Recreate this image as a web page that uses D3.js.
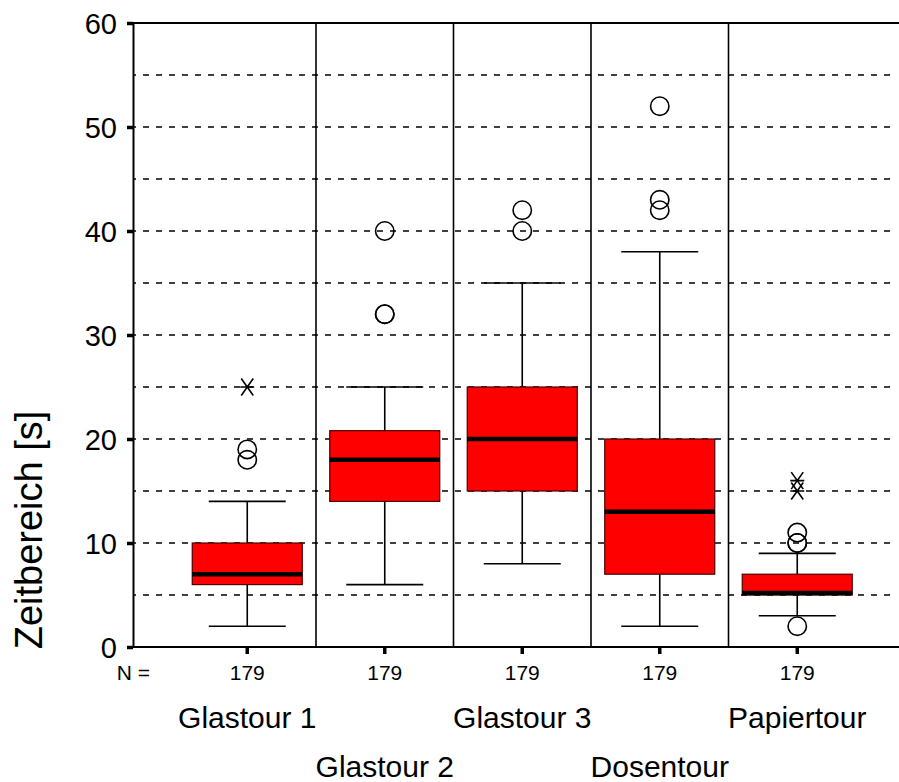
<!DOCTYPE html>
<html>
<head>
<meta charset="utf-8">
<script src="https://cdn.jsdelivr.net/npm/d3@7"></script>
<style>
  html, body { margin: 0; padding: 0; background: #fff; }
  svg { display: block; font-family: "Liberation Sans", Arial, sans-serif; }
</style>
</head>
<body>
<svg id="chart" width="899" height="782"></svg>
<script>
// Zeitbereich je Tour (Boxplot)
const categories   = ["Glastour 1", "Glastour 2", "Glastour 3", "Dosentour", "Papiertour"];
const counts       = [179, 179, 179, 179, 179];
const whiskerLow   = [2, 6, 8, 2, 3];
const q1           = [6, 14, 15, 7, 5];
const medians      = [7, 18, 20, 13, 5];
const q3           = [10, 20.8, 25, 20, 7];
const whiskerHigh  = [14, 25, 35, 38, 9];
const outliers     = [[18, 19], [32, 32, 40], [40, 42], [42, 43, 52], [2, 10, 10, 11]];
const extremes     = [[25], [], [], [], [15, 16]];
const yTicks       = [0, 10, 20, 30, 40, 50, 60];
const gridValues   = [5, 10, 15, 20, 25, 30, 35, 40, 45, 50, 55];
const yTitle       = "Zeitbereich [s]";
const nLabel       = "N =";

const svg = d3.select("#chart");
const W = 899;
const plotLeft = 133, plotTop = 23, plotBottom = 647;

const y = d3.scaleLinear().domain([0, 60]).range([plotBottom, plotTop]);
const x = d3.scaleBand().domain(categories).range([178.5, 866]).padding(0);
const cx = c => x(c) + x.bandwidth() / 2;

const boxW = 110, capW = 77;

// dashed grid
svg.append("g").selectAll("line").data(gridValues).join("line")
  .attr("x1", plotLeft).attr("x2", 896)
  .attr("y1", d => y(d)).attr("y2", d => y(d))
  .attr("stroke", "#000").attr("stroke-width", 1.6)
  .attr("stroke-dasharray", "6,7").attr("stroke-dashoffset", -10);

// top border and baseline
svg.append("line").attr("x1", plotLeft).attr("x2", W)
  .attr("y1", y(60)).attr("y2", y(60)).attr("stroke", "#000").attr("stroke-width", 2);
svg.append("line").attr("x1", 128).attr("x2", W)
  .attr("y1", y(0)).attr("y2", y(0)).attr("stroke", "#000").attr("stroke-width", 2);

// separators between groups
svg.append("g").selectAll("line").data(categories.slice(1)).join("line")
  .attr("x1", d => x(d)).attr("x2", d => x(d))
  .attr("y1", y(60)).attr("y2", y(0))
  .attr("stroke", "#000").attr("stroke-width", 1.6);

// y axis
const yAxis = svg.append("g").attr("transform", `translate(${plotLeft},0)`)
  .call(d3.axisLeft(y).tickValues(yTicks).tickSize(6).tickSizeOuter(0).tickPadding(10));
yAxis.select(".domain").attr("stroke-width", 2);
yAxis.selectAll(".tick line").attr("stroke-width", 3.5);
yAxis.selectAll(".tick text").attr("font-size", 29).attr("fill", "#000")
  .attr("font-family", "Liberation Sans, Arial, sans-serif").attr("dy", "0.36em");

// x axis ticks with counts
const xAxis = svg.append("g").attr("transform", `translate(0,${plotBottom})`)
  .call(d3.axisBottom(x).tickSize(7).tickSizeOuter(0).tickPadding(10)
    .tickFormat((d, i) => counts[i]));
xAxis.select(".domain").remove();
xAxis.selectAll(".tick line").attr("stroke-width", 3.5);
xAxis.selectAll(".tick text").attr("font-size", 21).attr("fill", "#000")
  .attr("font-family", "Liberation Sans, Arial, sans-serif").attr("y", 33).attr("dy", 0);

svg.append("text").attr("x", 150).attr("y", 680).attr("text-anchor", "end")
  .attr("font-size", 21).text(nLabel);

// category labels in two staggered rows
svg.append("g").selectAll("text").data(categories).join("text")
  .attr("x", d => cx(d))
  .attr("y", (d, i) => i % 2 === 0 ? 728 : 777)
  .attr("text-anchor", "middle").attr("font-size", 30).text(d => d);

// y title
svg.append("text").attr("transform", "translate(42,530) rotate(-90)")
  .attr("text-anchor", "middle").attr("font-size", 38).text(yTitle);

// boxes
const g = svg.append("g").selectAll("g").data(categories).join("g");

g.append("line") // whisker stem
  .attr("x1", d => cx(d)).attr("x2", d => cx(d))
  .attr("y1", (d, i) => y(whiskerLow[i])).attr("y2", (d, i) => y(whiskerHigh[i]))
  .attr("stroke", "#000").attr("stroke-width", 1.6);

g.append("line")
  .attr("x1", d => cx(d) - capW / 2).attr("x2", d => cx(d) + capW / 2)
  .attr("y1", (d, i) => y(whiskerLow[i])).attr("y2", (d, i) => y(whiskerLow[i]))
  .attr("stroke", "#000").attr("stroke-width", 1.6);
g.append("line")
  .attr("x1", d => cx(d) - capW / 2).attr("x2", d => cx(d) + capW / 2)
  .attr("y1", (d, i) => y(whiskerHigh[i])).attr("y2", (d, i) => y(whiskerHigh[i]))
  .attr("stroke", "#000").attr("stroke-width", 1.6);

g.append("rect")
  .attr("x", d => cx(d) - boxW / 2).attr("width", boxW)
  .attr("y", (d, i) => y(q3[i])).attr("height", (d, i) => y(q1[i]) - y(q3[i]))
  .attr("fill", "#ff0000").attr("stroke", "#4a0000").attr("stroke-width", 1.2);

g.append("line") // median
  .attr("x1", d => cx(d) - boxW / 2).attr("x2", d => cx(d) + boxW / 2)
  .attr("y1", (d, i) => y(medians[i]) - (medians[i] === q1[i] ? 2 : 0))
  .attr("y2", (d, i) => y(medians[i]) - (medians[i] === q1[i] ? 2 : 0))
  .attr("stroke", "#000").attr("stroke-width", 4.5);

// outliers (circles)
g.each(function (d, i) {
  d3.select(this).selectAll("circle").data(outliers[i]).join("circle")
    .attr("cx", cx(d)).attr("cy", v => y(v)).attr("r", 9.2)
    .attr("fill", "none").attr("stroke", "#000").attr("stroke-width", 1.6);
});

// extreme values (asterisks)
g.each(function (d, i) {
  const s = d3.select(this).selectAll("path.ext").data(extremes[i]).join("path")
    .attr("class", "ext")
    .attr("d", v => {
      const px = cx(d), py = y(v);
      return `M${px - 6},${py - 8.5}L${px + 6},${py + 8.5}` +
             `M${px - 6},${py + 8.5}L${px + 6},${py - 8.5}` +
             `M${px - 7},${py}L${px + 7},${py}`;
    })
    .attr("fill", "none").attr("stroke", "#000").attr("stroke-width", 1.6);
});
</script>
</body>
</html>
